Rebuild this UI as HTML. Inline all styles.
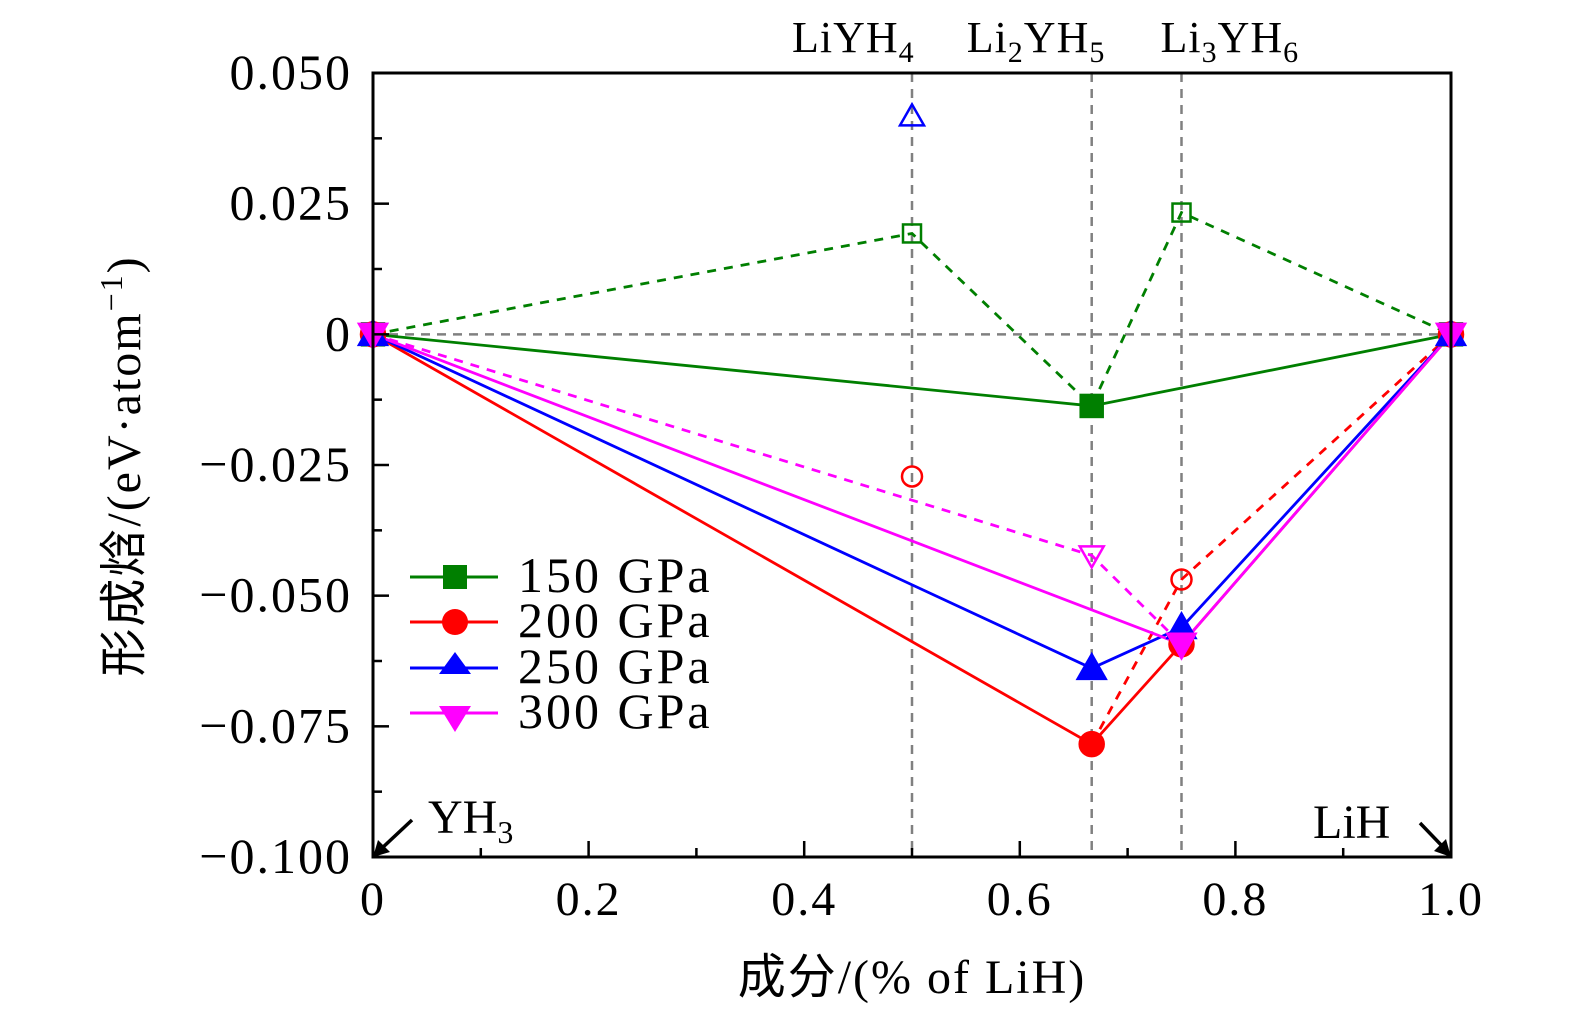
<!DOCTYPE html>
<html><head><meta charset="utf-8"><style>
body{margin:0;background:#fff}
text{font-family:"Liberation Serif","Noto Sans CJK SC",serif;fill:#000}
</style></head><body>
<svg id="chart" width="1575" height="1022" xmlns="http://www.w3.org/2000/svg">
<g id="g"></g>
<text x="428" y="833" font-size="48">YH<tspan font-size="32" dy="10">3</tspan></text>
<text x="1313" y="838" font-size="48">LiH</text>
<g><line x1="412" y1="820" x2="380" y2="850" stroke="#000" stroke-width="3.5"/><polygon points="373,857 378,840 390,852" fill="#000"/></g>
<g><line x1="1420" y1="823" x2="1444" y2="848" stroke="#000" stroke-width="3.5"/><polygon points="1451,857 1434,851 1446,839" fill="#000"/></g>
<text x="912" y="993" font-size="48" letter-spacing="2" text-anchor="middle">成分/(% of LiH)</text>
<text transform="translate(140,466) rotate(-90)" font-size="48" letter-spacing="2" text-anchor="middle">形成焓/(eV·atom<tspan font-size="32" dy="-18">−1</tspan><tspan dy="18">)</tspan></text>
<g>
<g><line x1="410" x2="498" y1="577" y2="577" stroke="#007f00" stroke-width="3"/><rect x="443" y="565" width="24" height="24" fill="#007f00"/><text x="518" y="592" font-size="50" letter-spacing="3">150 GPa</text></g>
<g><line x1="410" x2="498" y1="622" y2="622" stroke="#ff0000" stroke-width="3"/><circle cx="455" cy="622" r="13" fill="#ff0000"/><text x="518" y="637" font-size="50" letter-spacing="3">200 GPa</text></g>
<g><line x1="410" x2="498" y1="668" y2="668" stroke="#0000ff" stroke-width="3"/><polygon points="455,652 439,674 471,674" fill="#0000ff"/><text x="518" y="683" font-size="50" letter-spacing="3">250 GPa</text></g>
<g><line x1="410" x2="498" y1="713" y2="713" stroke="#ff00ff" stroke-width="3"/><polygon points="455,732 439,706 471,706" fill="#ff00ff"/><text x="518" y="728" font-size="50" letter-spacing="3">300 GPa</text></g>
</g>
</svg>
<script>
const xTicks=[0,0.2,0.4,0.6,0.8,1.0];
const xTickLabels=["0","0.2","0.4","0.6","0.8","1.0"];
const yTicks=[0.05,0.025,0,-0.025,-0.05,-0.075,-0.1];
const yTickLabels=["0.050","0.025","0","\u22120.025","\u22120.050","\u22120.075","\u22120.100"];
const phaseX=[0.5,0.6667,0.75];
const phaseNames=[["LiYH","4","",""],["Li","2","YH","5"],["Li","3","YH","6"]];
const s150x=[0,0.6667,1], s150y=[0,-0.0137,0];
const d150x=[0,0.5,0.6667,0.75,1], d150y=[0,0.0193,-0.0137,0.0233,0];
const o150x=[0.5,0.75], o150y=[0.0193,0.0233];
const s200x=[0,0.6667,0.75,1], s200y=[0,-0.0784,-0.0593,0];
const d200x=[0.6667,0.75,1], d200y=[-0.0784,-0.0469,0];
const o200x=[0.5,0.75], o200y=[-0.0272,-0.0469];
const s250x=[0,0.6667,0.75,1], s250y=[0,-0.0639,-0.0561,0];
const o250x=[0.5], o250y=[0.0417];
const s300x=[0,0.75,1], s300y=[0,-0.0593,0];
const d300x=[0,0.6667,0.75], d300y=[0,-0.0423,-0.0593];
const o300x=[0.6667], o300y=[-0.0423];

const L=373,R=1451,T=73,B=857;
const X=v=>L+(R-L)*v;
const Y=v=>T+(0.05-v)/0.15*(B-T);
const g=document.getElementById('g');
const NS="http://www.w3.org/2000/svg";
function mk(tag,a,p){const e=document.createElementNS(NS,tag);for(const k in a)e.setAttribute(k,a[k]);(p||g).appendChild(e);return e;}

const zl=mk('line',{x1:L,x2:R,y1:Y(0),y2:Y(0),stroke:'#808080','stroke-width':2.5,'stroke-dasharray':'9,7'});


phaseX.forEach(p=>{const e=mk('line',{x1:X(p),x2:X(p),y1:T,y2:B,stroke:'#808080','stroke-width':2.5,'stroke-dasharray':'9,7'});

});

function line(xs,ys,c,dash,name){const pts=xs.map((x,i)=>X(x)+','+Y(ys[i])).join(' ');
const e=mk('polyline',{points:pts,fill:'none',stroke:c,'stroke-width':2.8});if(dash)e.setAttribute('stroke-dasharray','9,8');

}
function marker(type,cx,cy,c,filled,name){let e;const f=filled?c:'none';
if(type==='sq')e=mk('rect',{x:cx-(filled?11:9),y:cy-(filled?11:9),width:filled?22:18,height:filled?22:18,fill:f,stroke:c,'stroke-width':2.5});
else if(type==='ci')e=mk('circle',{cx:cx,cy:cy,r:filled?12:10,fill:f,stroke:c,'stroke-width':2.5});
else if(type==='up'){const s=filled?14:12;e=mk('polygon',{points:`${cx},${cy-s} ${cx-s},${cy+s*0.75} ${cx+s},${cy+s*0.75}`,fill:f,stroke:c,'stroke-width':2.5});}
else{const s=filled?14:12;e=mk('polygon',{points:`${cx},${cy+s} ${cx-s},${cy-s*0.75} ${cx+s},${cy-s*0.75}`,fill:f,stroke:c,'stroke-width':2.5});}

}

const G='#007f00',Rr='#ff0000',Bl='#0000ff',M='#ff00ff';
line(d150x,d150y,G,true,'series-150-dashed');
line(d200x,d200y,Rr,true,'series-200-dashed');
line(d300x,d300y,M,true,'series-300-dashed');
line(s150x,s150y,G,false,'series-150');
line(s200x,s200y,Rr,false,'series-200');
line(s250x,s250y,Bl,false,'series-250');
line(s300x,s300y,M,false,'series-300');
o150x.forEach((x,i)=>marker('sq',X(x),Y(o150y[i]),G,false,'open-point-150'));
o200x.forEach((x,i)=>marker('ci',X(x),Y(o200y[i]),Rr,false,'open-point-200'));
o250x.forEach((x,i)=>marker('up',X(x),Y(o250y[i]),Bl,false,'open-point-250'));
o300x.forEach((x,i)=>marker('dn',X(x),Y(o300y[i]),M,false,'open-point-300'));
s150x.forEach((x,i)=>marker('sq',X(x),Y(s150y[i]),G,true,'point-150'));
s200x.forEach((x,i)=>marker('ci',X(x),Y(s200y[i]),Rr,true,'point-200'));
s250x.forEach((x,i)=>marker('up',X(x),Y(s250y[i]),Bl,true,'point-250'));
s300x.forEach((x,i)=>marker('dn',X(x),Y(s300y[i]),M,true,'point-300'));

const ax=mk('rect',{x:L,y:T,width:R-L,height:B-T,fill:'none',stroke:'#000','stroke-width':3});


for(let i=1;i<10;i+=2){mk('line',{x1:X(i/10),x2:X(i/10),y1:B,y2:B-9,stroke:'#000','stroke-width':2.5});}
xTicks.forEach((t,i)=>{mk('line',{x1:X(t),x2:X(t),y1:B,y2:B-16,stroke:'#000','stroke-width':2.5});
const e=mk('text',{x:X(t),y:915,'font-size':48,'letter-spacing':2,'text-anchor':'middle'});e.textContent=xTickLabels[i];

});
for(let k=0;k<6;k++){const v=0.0375-k*0.025;mk('line',{x1:L,x2:L+9,y1:Y(v),y2:Y(v),stroke:'#000','stroke-width':2.5});}
yTicks.forEach((t,i)=>{mk('line',{x1:L,x2:L+16,y1:Y(t),y2:Y(t),stroke:'#000','stroke-width':2.5});
const e=mk('text',{x:352,y:Y(t)+16,'font-size':50,'letter-spacing':2,'text-anchor':'end'});e.textContent=yTickLabels[i];

});

const phaseOffset=[-120,-125,-21];
phaseX.forEach((p,i)=>{const n=phaseNames[i];const e=mk('text',{x:X(p)+phaseOffset[i],y:52,'font-size':44,'letter-spacing':1});


let h=n[0]+'<tspan font-size="30" dy="10">'+n[1]+'</tspan>';
if(n[2])h+='<tspan dy="-10">'+n[2]+'</tspan><tspan font-size="30" dy="10">'+n[3]+'</tspan>';
e.innerHTML=h;});
</script>
</body></html>
